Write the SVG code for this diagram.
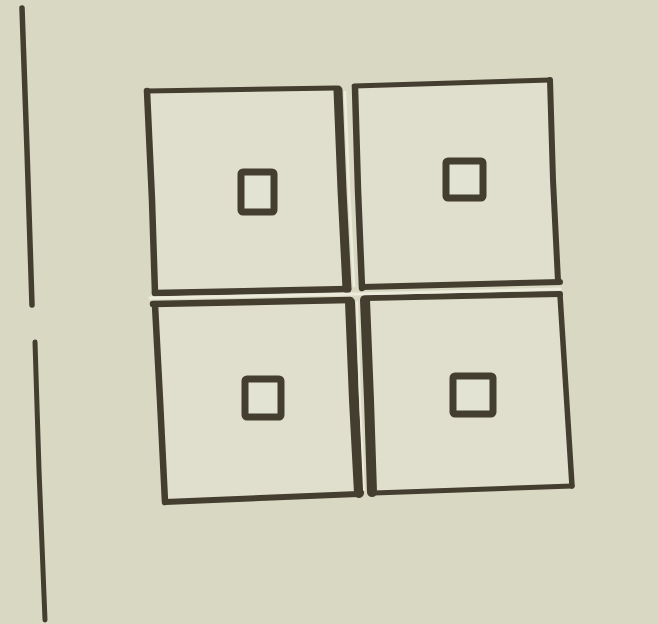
<svg xmlns="http://www.w3.org/2000/svg" width="658" height="624" viewBox="0 0 658 624">
<style>
.ink{fill:none;stroke:#433e30;stroke-linecap:round;stroke-linejoin:round}
.cell{fill:#e0dfcd}
.gap{fill:none;stroke:#ecebdc;stroke-linecap:round}
.box{fill:#e3e3d3;stroke:#433e30;stroke-width:7;stroke-linejoin:round}
</style>
<rect width="658" height="624" fill="#d9d8c2"/>
<g id="left-line">
<path class="ink" d="M22,8 L27,150 L32,305" stroke-width="5.5"/>
<path class="ink" d="M35,342 L39,470 L45,620" stroke-width="5"/>
</g>
<g id="cell-tl">
<path class="cell" d="M147,90 L336,88 L350,290 L155,293 Z"/>
<path class="ink" d="M147,91 L336,88" stroke-width="5"/>
<path class="ink" d="M147,91 L152,200 L155,293" stroke-width="6.5"/>
<path class="ink" d="M155,293 L348,289" stroke-width="6.5"/>
<path class="ink" d="M338,90 L342,190 L347,289" stroke-width="9"/>
<rect class="box" x="241" y="172" width="33" height="40" rx="2"/>
</g>
<g id="cell-tr">
<path class="cell" d="M354,86 L550,80 L558,281 L362,288 Z"/>
<path class="ink" d="M354,86 L550,80" stroke-width="5"/>
<path class="ink" d="M355,88 L358,190 L362,288" stroke-width="6.5"/>
<path class="ink" d="M550,80 L553,180 L558,281" stroke-width="6"/>
<path class="ink" d="M362,287 L560,282" stroke-width="6"/>
<rect class="box" x="446" y="161" width="37" height="37" rx="2"/>
</g>
<g id="cell-bl">
<path class="cell" d="M153,304 L350,300 L360,494 L165,502 Z"/>
<path class="ink" d="M153,304 L350,300" stroke-width="6.5"/>
<path class="ink" d="M155,305 L160,400 L165,502" stroke-width="6.5"/>
<path class="ink" d="M165,502 L358,494" stroke-width="6"/>
<path class="ink" d="M350,302 L354,400 L359,493" stroke-width="10"/>
<rect class="box" x="245" y="379" width="36" height="38" rx="2"/>
</g>
<g id="cell-br">
<path class="cell" d="M364,298 L558,294 L572,486 L374,493 Z"/>
<path class="ink" d="M366,298 L560,294" stroke-width="6"/>
<path class="ink" d="M365,300 L369,400 L372,492" stroke-width="10"/>
<path class="ink" d="M560,295 L566,390 L572,486" stroke-width="5.5"/>
<path class="ink" d="M374,493 L572,486" stroke-width="5"/>
<rect class="box" x="453" y="376" width="40" height="38" rx="2"/>
</g>
<g id="gaps">
<path class="gap" d="M345,92 L349,190 L354,286" stroke-width="2.5"/>
<path class="gap" d="M150,298 L355,294 L560,289" stroke-width="3"/>
<path class="gap" d="M357,302 L360,400 L364,490" stroke-width="2"/>
</g>
</svg>
